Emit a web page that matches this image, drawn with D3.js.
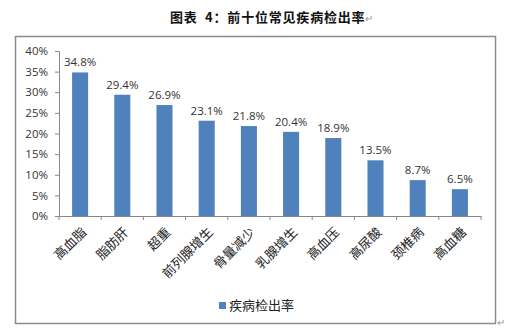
<!DOCTYPE html>
<html>
<head>
<meta charset="utf-8">
<script src="https://cdn.jsdelivr.net/npm/d3@7/dist/d3.min.js"></script>
<style>
  html, body { margin: 0; padding: 0; background: #fff; }
  svg { display: block; }
</style>
</head>
<body>
<svg id="chart" width="508" height="332"></svg>
<script>
// Detection rate of the ten most common conditions
const categories = ["高血脂", "脂肪肝", "超重", "前列腺增生", "骨量减少", "乳腺增生", "高血压", "高尿酸", "颈椎病", "高血糖"];
const rates = [34.8, 29.4, 26.9, 23.1, 21.8, 20.4, 18.9, 13.5, 8.7, 6.5];
const yTicks = [0, 5, 10, 15, 20, 25, 30, 35, 40];
const seriesName = "疾病检出率";
const titleText = "图表 4：前十位常见疾病检出率";

const svg = d3.select("#chart");
const cjk = "'Noto Sans CJK SC', 'Noto Sans', sans-serif";
const num = "'Open Sans', 'Liberation Sans', sans-serif";

// Title above the chart frame
const title = svg.append("text")
  .attr("x", 170).attr("y", 22)
  .attr("font-family", cjk).attr("font-size", 13).attr("font-weight", "bold")
  .attr("letter-spacing", 0.8)
  .attr("fill", "#111")
  .style("white-space", "pre")
  .text(titleText.replace(" ", "  "));
title.append("tspan").attr("fill", "#999").attr("font-weight", "normal").attr("font-size", 10).text("↵");

// Chart frame
svg.append("rect")
  .attr("x", 15.5).attr("y", 36.5).attr("width", 480).attr("height", 287)
  .attr("fill", "#fff").attr("stroke", "#8c8c8c").attr("stroke-width", 1.5);
svg.append("text")
  .attr("x", 497).attr("y", 326)
  .attr("font-family", cjk).attr("font-size", 10).attr("fill", "#999")
  .text("↵");

const plot = { left: 59, right: 481, top: 51, bottom: 216 };

const x = d3.scaleBand()
  .domain(categories)
  .range([plot.left, plot.right])
  .paddingInner(0.62)
  .paddingOuter(0.31);

const y = d3.scaleLinear()
  .domain([0, 40])
  .range([plot.bottom, plot.top]);

// Bars
svg.append("g").selectAll("rect")
  .data(rates)
  .join("rect")
  .attr("x", (d, i) => x(categories[i]))
  .attr("y", d => y(d))
  .attr("width", x.bandwidth())
  .attr("height", d => y(0) - y(d))
  .attr("fill", "#4f81bd");

// Value labels
svg.append("g").selectAll("text")
  .data(rates)
  .join("text")
  .attr("x", (d, i) => x(categories[i]) + x.bandwidth() / 2)
  .attr("y", d => y(d) - 6)
  .attr("text-anchor", "middle")
  .attr("font-family", num).attr("font-size", 11.5)
  .attr("fill", "#333")
  .text(d => d.toFixed(1) + "%");

// Y axis
const yAxis = svg.append("g")
  .attr("transform", `translate(${plot.left},0)`)
  .call(d3.axisLeft(y).tickValues(yTicks).tickSize(4).tickSizeOuter(0).tickFormat(d => d + "%"));
yAxis.select(".domain").attr("stroke", "#868686");
yAxis.selectAll(".tick line").attr("stroke", "#868686");
yAxis.selectAll(".tick text")
  .attr("x", -11)
  .attr("font-family", num).attr("font-size", 11.5).attr("fill", "#333");

// X axis: ticks on category boundaries, labels rotated
const xAxis = svg.append("g")
  .attr("transform", `translate(0,${plot.bottom})`)
  .call(d3.axisBottom(x).tickSize(0).tickSizeOuter(0).tickFormat(""));
xAxis.select(".domain").attr("stroke", "#868686");
const step = x.step();
const bounds = d3.range(categories.length + 1).map(i => plot.left + i * step);
xAxis.append("g").selectAll("line")
  .data(bounds)
  .join("line")
  .attr("x1", d => d).attr("x2", d => d)
  .attr("y1", 0).attr("y2", 4)
  .attr("stroke", "#868686");

svg.append("g").selectAll("text")
  .data(categories)
  .join("text")
  .attr("transform", d => `translate(${x(d) + x.bandwidth() / 2 + 7},${plot.bottom + 17}) rotate(-45)`)
  .attr("text-anchor", "end")
  .attr("font-family", cjk).attr("font-size", 13)
  .attr("fill", "#222")
  .text(d => d);

// Legend
const legend = svg.append("g");
legend.append("rect")
  .attr("x", 219).attr("y", 302).attr("width", 7).attr("height", 7)
  .attr("fill", "#4f81bd");
legend.append("text")
  .attr("x", 229).attr("y", 310)
  .attr("font-family", cjk).attr("font-size", 13).attr("fill", "#222")
  .text(seriesName);
</script>
</body>
</html>
